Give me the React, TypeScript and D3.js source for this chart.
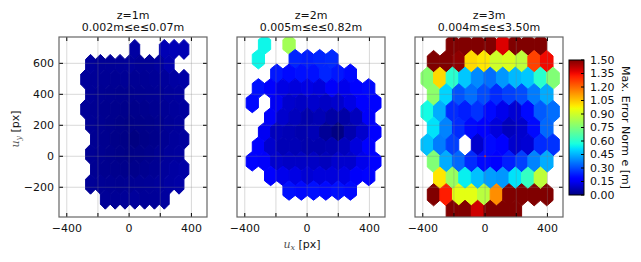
import React from "react";
import * as d3 from "d3";

// panel titles
const titles = ["z=1m", "z=2m", "z=3m"];
const errRanges = ["0.002m≤e≤0.07m", "0.005m≤e≤0.82m", "0.004m≤e≤3.50m"];

// axis ticks
const xTicks = [-400, -200, 0, 200, 400];
const xTickLabels = [-400, 0, 400];
const yTicks = [-200, 0, 200, 400, 600];
const cbarTicks = [0, 0.15, 0.3, 0.45, 0.6, 0.75, 0.9, 1.05, 1.2, 1.35, 1.5];

// hexbin extents [xmin, xmax, ymin, ymax] (gridsize 10 -> 11/10 cells per row)
const extent1 = [-279, 352, -277, 690];
const extent2 = [-352, 435, -221, 721];
const extent3 = [-371, 436, -356, 719];

// max error norm per hex cell, rows from top to bottom (null = no samples)
const err1 = [
  [null, null, null, null, null, 0.045, null, null, 0.068, 0.07, 0.066],
  [0.035, 0.03, 0.03, 0.032, 0.035, 0.03, 0.032, 0.04, 0.06, null],
  [0.035, 0.03, 0.028, 0.025, 0.028, 0.025, 0.027, 0.03, 0.035, 0.045, 0.05],
  [0.03, 0.025, 0.022, 0.02, 0.02, 0.022, 0.025, 0.028, 0.035, 0.04],
  [0.032, 0.025, 0.02, 0.018, 0.015, 0.015, 0.018, 0.022, 0.028, 0.035, 0.04],
  [0.028, 0.022, 0.018, 0.012, 0.01, 0.012, 0.015, 0.02, 0.03, 0.035],
  [null, 0.025, 0.02, 0.012, 0.008, 0.002, 0.01, 0.015, 0.025, 0.035, 0.04],
  [0.028, 0.022, 0.018, 0.012, 0.01, 0.012, 0.018, 0.025, 0.035, 0.04],
  [null, 0.025, 0.02, 0.018, 0.015, 0.015, 0.02, 0.025, 0.035, 0.045, 0.05],
  [0.03, 0.028, 0.025, 0.022, 0.025, 0.028, 0.03, 0.035, 0.045, 0.05],
  [null, null, 0.03, 0.028, 0.03, 0.035, 0.03, 0.032, 0.04, null, null],
];
const err2 = [
  [null, 0.55, null, 0.82, null, null, null, null, null, null, null],
  [0.55, null, null, 0.24, 0.23, 0.24, 0.25, null, null, null],
  [null, null, 0.22, 0.2, 0.21, 0.21, 0.24, 0.22, 0.2, null, null],
  [0.21, 0.17, 0.13, 0.12, 0.13, 0.12, 0.16, 0.14, 0.19, 0.2],
  [0.2, null, 0.15, 0.1, 0.09, 0.1, 0.09, 0.1, 0.13, 0.17, 0.19],
  [null, 0.16, 0.1, 0.08, 0.06, 0.07, 0.05, 0.05, 0.08, 0.16],
  [null, 0.15, 0.08, 0.07, 0.06, 0.07, 0.03, 0.005, 0.06, 0.1, 0.18],
  [0.18, 0.1, 0.07, 0.07, 0.06, 0.06, 0.065, 0.08, 0.12, 0.18],
  [0.19, 0.16, 0.1, 0.09, 0.09, 0.09, 0.08, 0.1, 0.1, 0.14, 0.19],
  [null, 0.17, 0.14, 0.13, 0.11, 0.12, 0.12, 0.13, 0.16, 0.19],
  [null, null, null, 0.21, 0.2, 0.21, 0.2, 0.21, 0.2, null, null],
];
const err3 = [
  [null, null, 2.4, 2.6, 2.9, 2.2, 1.38, 2.7, 3.5, 2.5, null],
  [2.0, 1.9, 1.48, 1.02, 1.0, 0.9, 0.92, 0.87, 1.26, 1.35],
  [0.77, 1.02, 0.6, 0.48, 0.39, 0.35, 0.41, 0.46, 0.48, 0.6, 0.76],
  [0.78, 0.5, 0.31, 0.35, 0.3, 0.25, 0.28, 0.3, 0.37, 0.44],
  [0.56, 0.44, 0.25, 0.23, 0.26, 0.2, 0.14, 0.11, 0.2, 0.32, 0.35],
  [0.52, 0.38, 0.25, 0.2, 0.17, 0.12, 0.08, 0.1, 0.2, 0.34],
  [0.47, 0.37, 0.28, null, 0.1, 0.2, 0.18, 0.1, 0.11, 0.25, 0.26],
  [0.76, 0.44, 0.34, 0.25, 0.2, 0.18, 0.23, 0.28, 0.38, 0.44],
  [null, 1.0, 0.8, 0.54, 0.47, 0.42, 0.41, 0.52, 0.62, 0.87, null],
  [2.2, 1.32, 0.94, 0.94, 0.86, 1.14, 2.5, 2.8, 3.0, 2.3],
  [null, null, 2.0, 2.4, 1.4, 2.6, 3.1, 2.2, null, null, null],
];

const panels = [
  { extent: extent1, rows: err1, origin: false },
  { extent: extent2, rows: err2, origin: false },
  { extent: extent3, rows: err3, origin: true },
];

const GRID_X = 10;
const GRID_Y = 5;
const FONT = "DejaVu Sans, sans-serif";

// matplotlib "jet"
const jetR = d3.scaleLinear().domain([0, 0.35, 0.66, 0.89, 1]).range([0, 0, 1, 1, 0.5]).clamp(true);
const jetG = d3.scaleLinear().domain([0, 0.125, 0.375, 0.64, 0.91, 1]).range([0, 0, 1, 1, 0, 0]).clamp(true);
const jetB = d3.scaleLinear().domain([0, 0.11, 0.34, 0.65, 1]).range([0.5, 1, 1, 0, 0]).clamp(true);
const norm = d3.scaleLinear().domain([0, 1.5]).range([0, 1]).clamp(true);
const jet = (v: number) => {
  const t = norm(v);
  return d3.rgb(jetR(t) * 255, jetG(t) * 255, jetB(t) * 255).formatHex();
};

const PANEL_LEFT = [59, 237, 415];
const TOP = 37;
const PW = 148;
const PH = 180;
const CB = { x: 569, y: 60, w: 15, h: 135 };

const HEX = [[0.5, -0.5], [0.5, 0.5], [0, 1], [-0.5, 0.5], [-0.5, -0.5], [0, -1]];

const Panel = ({ idx }: { idx: number }) => {
  const left = PANEL_LEFT[idx];
  const { extent, rows, origin } = panels[idx];
  const x = d3.scaleLinear().domain([-450, 500]).range([left, left + PW]);
  const y = d3.scaleLinear().domain([-392, 770]).range([TOP + PH, TOP]);
  const [xmin, xmax, ymin, ymax] = extent;
  const sx = (xmax - xmin) / GRID_X;
  const sy = (ymax - ymin) / GRID_Y;
  const line = d3.line();

  const cells: { d: string; c: string }[] = [];
  rows.forEach((row, r) => {
    const cy = ymax - (r * sy) / 2;
    const off = r % 2 === 1 ? 0.5 : 0;
    row.forEach((v, i) => {
      if (v === null) return;
      const cx = xmin + (i + off) * sx;
      const pts = HEX.map(([a, b]) => [x(cx + a * sx), y(cy + (b * sy) / 3)] as [number, number]);
      cells.push({ d: line(pts) + "Z", c: jet(v) });
    });
  });

  const cx = left + PW / 2;
  const bottom = TOP + PH;
  return (
    <g>
      <defs>
        <clipPath id={`clip${idx}`}>
          <rect x={left} y={TOP} width={PW} height={PH} />
        </clipPath>
      </defs>
      <g clipPath={`url(#clip${idx})`}>
        {cells.map((h, i) => (
          <path key={i} d={h.d} fill={h.c} stroke={h.c} strokeWidth={1} />
        ))}
        {origin && <circle cx={x(0)} cy={y(0)} r={1} fill="#e00" />}
        {xTicks.map((t) => (
          <line key={"gx" + t} x1={x(t)} x2={x(t)} y1={TOP} y2={bottom} stroke="#808080" strokeOpacity={0.3} />
        ))}
        {yTicks.map((t) => (
          <line key={"gy" + t} x1={left} x2={left + PW} y1={y(t)} y2={y(t)} stroke="#808080" strokeOpacity={0.3} />
        ))}
      </g>
      {xTicks.map((t) => (
        <g key={"tx" + t} stroke="#000" strokeWidth={1}>
          <line x1={x(t)} x2={x(t)} y1={bottom} y2={bottom - 4} />
          <line x1={x(t)} x2={x(t)} y1={TOP} y2={TOP + 4} />
        </g>
      ))}
      {yTicks.map((t) => (
        <g key={"ty" + t} stroke="#000" strokeWidth={1}>
          <line x1={left} x2={left + 4} y1={y(t)} y2={y(t)} />
          <line x1={left + PW} x2={left + PW - 4} y1={y(t)} y2={y(t)} />
        </g>
      ))}
      <rect x={left} y={TOP} width={PW} height={PH} fill="none" stroke="#666" strokeWidth={1.2} />
      {xTickLabels.map((t) => (
        <text key={"lx" + t} x={x(t)} y={bottom + 14.5} textAnchor="middle" fontSize={11} fontFamily={FONT} fill="#111">
          {t < 0 ? "\u2212" + Math.abs(t) : t}
        </text>
      ))}
      {idx === 0 &&
        yTicks.map((t) => (
          <text key={"ly" + t} x={left - 5} y={y(t)} dy="0.35em" textAnchor="end" fontSize={11} fontFamily={FONT} fill="#111">
            {t < 0 ? "\u2212" + Math.abs(t) : t}
          </text>
        ))}
      <text x={cx} y={18.5} textAnchor="middle" fontSize={11} fontFamily={FONT} fill="#111">
        {titles[idx]}
      </text>
      <text x={cx} y={30.5} textAnchor="middle" fontSize={11} fontFamily={FONT} fill="#111">
        {errRanges[idx]}
      </text>
    </g>
  );
};

const ColorBar = () => {
  const c = d3.scaleLinear().domain([0, 1.5]).range([CB.y + CB.h, CB.y]);
  const stops = d3.range(0, 1.0001, 0.02);
  return (
    <g>
      <defs>
        <linearGradient id="jetGrad" x1="0" y1="1" x2="0" y2="0">
          {stops.map((s) => (
            <stop key={s} offset={s} stopColor={jet(s * 1.5)} />
          ))}
        </linearGradient>
      </defs>
      <rect x={CB.x} y={CB.y} width={CB.w} height={CB.h} fill="url(#jetGrad)" stroke="#000" strokeWidth={1} />
      {cbarTicks.map((t) => (
        <g key={t}>
          <line x1={CB.x + CB.w} x2={CB.x + CB.w - 3} y1={c(t)} y2={c(t)} stroke="#000" />
          <text x={CB.x + 21} y={c(t)} dy="0.35em" fontSize={11} fontFamily={FONT} fill="#111">
            {t.toFixed(2)}
          </text>
        </g>
      ))}
      <text
        transform={`translate(626,${CB.y + CB.h / 2}) rotate(90)`}
        textAnchor="middle"
        dy="0.35em"
        fontSize={11}
        fontFamily={FONT}
        fill="#111"
      >
        Max. Error Norm e [m]
      </text>
    </g>
  );
};

const App = () => {
  return (
    <svg width={641} height={262} style={{ position: "absolute", left: 0, top: 0, background: "#fff" }}>
      <rect width={641} height={262} fill="#fff" />
      {[0, 1, 2].map((i) => (
        <Panel key={i} idx={i} />
      ))}
      <ColorBar />
      <text x={302} y={248} textAnchor="middle" fontSize={11} fontFamily={FONT} fill="#111">
        <tspan fontFamily="DejaVu Serif, serif" fontStyle="italic" fill="#555">u</tspan>
        <tspan fontFamily="DejaVu Serif, serif" fontStyle="italic" fontSize={8} dy={2} fill="#555">x</tspan>
        <tspan dy={-2}> [px]</tspan>
      </text>
      <text transform="translate(19,129) rotate(-90)" textAnchor="middle" fontSize={11} fontFamily={FONT} fill="#111">
        <tspan fontFamily="DejaVu Serif, serif" fontStyle="italic" fill="#555">u</tspan>
        <tspan fontFamily="DejaVu Serif, serif" fontStyle="italic" fontSize={8} dy={2} fill="#555">y</tspan>
        <tspan dy={-2}> [px]</tspan>
      </text>
    </svg>
  );
};

export default App;
